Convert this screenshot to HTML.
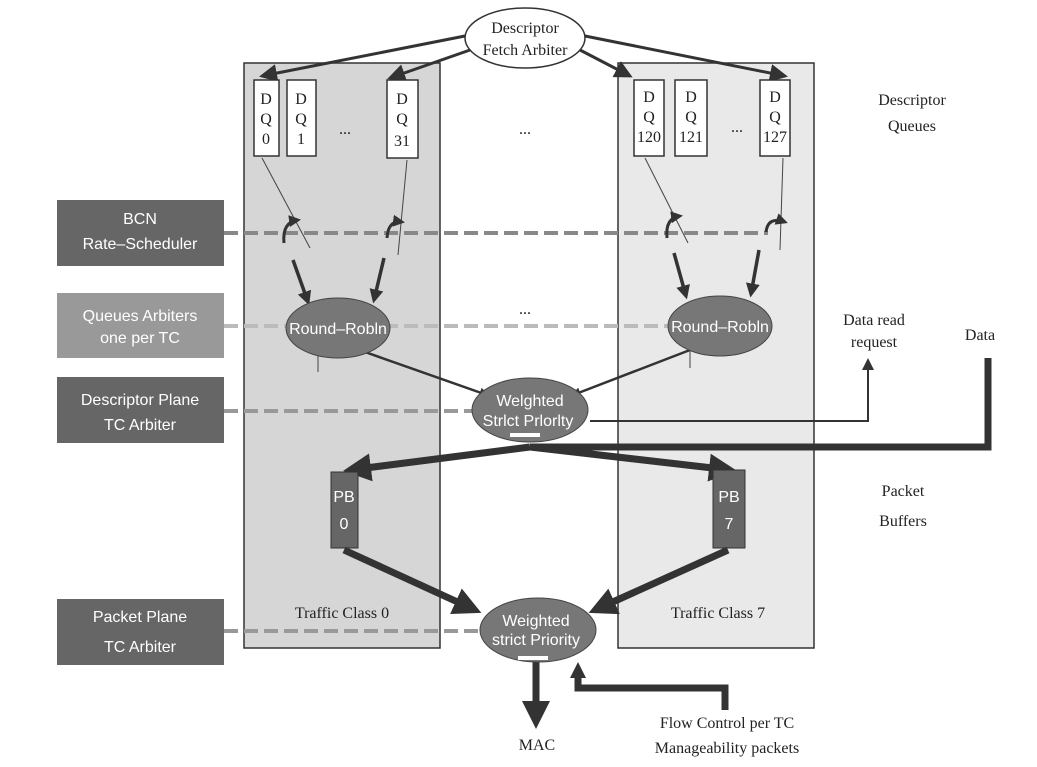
<!DOCTYPE html>
<html><head><meta charset="utf-8"><style>
body{margin:0;background:#fff}
svg{display:block}
.s{font-family:"Liberation Serif",serif;font-size:16px;fill:#222}
.w{font-family:"Liberation Sans",sans-serif;font-size:16px;fill:#fff}
</style></head><body>
<svg width="1037" height="767" viewBox="0 0 1037 767">
<defs>
<marker id="a" markerWidth="6" markerHeight="6" refX="5" refY="3" orient="auto" markerUnits="strokeWidth"><path d="M0,0L6,3L0,6z" fill="#333"/></marker>
<marker id="b" markerWidth="4" markerHeight="4" refX="3" refY="2" orient="auto" markerUnits="strokeWidth"><path d="M0,0L4,2L0,4z" fill="#333"/></marker>
</defs>
<rect x="244" y="63" width="196" height="585" fill="#d6d6d6" stroke="#333" stroke-width="1.5"/>
<rect x="618" y="63" width="196" height="585" fill="#e9e9e9" stroke="#333" stroke-width="1.5"/>
<g stroke="#333" stroke-width="3" fill="none">
<line x1="470" y1="35" x2="262" y2="76" marker-end="url(#a)"/>
<line x1="470" y1="50" x2="390" y2="78" marker-end="url(#a)"/>
<line x1="580" y1="50" x2="630" y2="76" marker-end="url(#a)"/>
<line x1="580" y1="35" x2="785" y2="76" marker-end="url(#a)"/>
</g>
<ellipse cx="525" cy="38" rx="60" ry="30" fill="#fff" stroke="#333" stroke-width="1.5"/>
<text class="s" x="525" y="33" text-anchor="middle">Descriptor</text>
<text class="s" x="525" y="55" text-anchor="middle">Fetch Arbiter</text>
<g fill="#fff" stroke="#333" stroke-width="1.5">
<rect x="254" y="80" width="25" height="76"/><rect x="287" y="80" width="29" height="76"/><rect x="387" y="80" width="31" height="78"/>
<rect x="634" y="80" width="30" height="76"/><rect x="675" y="80" width="32" height="76"/><rect x="760" y="80" width="30" height="76"/>
</g>
<g class="s" text-anchor="middle">
<text x="266" y="104">D</text><text x="266" y="124">Q</text><text x="266" y="144">0</text>
<text x="301" y="104">D</text><text x="301" y="124">Q</text><text x="301" y="144">1</text>
<text x="402" y="104">D</text><text x="402" y="124">Q</text><text x="402" y="146">31</text>
<text x="649" y="102">D</text><text x="649" y="122">Q</text><text x="649" y="142">120</text>
<text x="691" y="102">D</text><text x="691" y="122">Q</text><text x="691" y="142">121</text>
<text x="775" y="102">D</text><text x="775" y="122">Q</text><text x="775" y="142">127</text>
<text x="345" y="134">...</text><text x="525" y="134">...</text><text x="737" y="132">...</text><text x="525" y="314">...</text>
</g>
<g stroke="#444" stroke-width="1" fill="none">
<line x1="262" y1="158" x2="310" y2="248"/><line x1="407" y1="160" x2="398" y2="255"/>
<line x1="645" y1="158" x2="688" y2="243"/><line x1="783" y1="158" x2="780" y2="250"/>
<line x1="318" y1="350" x2="318" y2="372"/><line x1="690" y1="348" x2="690" y2="368"/>
</g>
<g stroke-width="4" stroke-dasharray="14,6" fill="none">
<line x1="224" y1="233" x2="768" y2="233" stroke="#888"/>
<line x1="224" y1="326" x2="670" y2="326" stroke="#bbb"/>
<line x1="224" y1="411" x2="475" y2="411" stroke="#999"/>
<line x1="224" y1="631" x2="480" y2="631" stroke="#999"/>
</g>
<g stroke="#333" stroke-width="3" fill="none">
<path d="M284,243 Q282,222 298,220" marker-end="url(#b)"/><path d="M387,238 Q388,220 402,222" marker-end="url(#b)"/>
<path d="M667,238 Q665,218 680,216" marker-end="url(#b)"/><path d="M766,232 Q768,216 785,222" marker-end="url(#b)"/>
</g>
<g stroke="#333" stroke-width="3.5" fill="none">
<line x1="293" y1="260" x2="308" y2="302" marker-end="url(#b)"/>
<line x1="384" y1="258" x2="374" y2="300" marker-end="url(#b)"/>
<line x1="674" y1="253" x2="686" y2="296" marker-end="url(#b)"/>
<line x1="759" y1="250" x2="751" y2="294" marker-end="url(#b)"/>
</g>
<g stroke="#333" stroke-width="2.5" fill="none">
<line x1="365" y1="352" x2="487" y2="395" marker-end="url(#b)"/>
<line x1="690" y1="350" x2="573" y2="395" marker-end="url(#b)"/>
</g>
<ellipse cx="338" cy="328" rx="52" ry="30" fill="#777" stroke="#444"/>
<text class="w" x="338" y="334" text-anchor="middle">Round–Robln</text>
<ellipse cx="720" cy="326" rx="52" ry="30" fill="#777" stroke="#444"/>
<text class="w" x="720" y="332" text-anchor="middle">Round–Robln</text>
<path d="M590,421 L868,421 L868,360" stroke="#333" stroke-width="2" fill="none" marker-end="url(#a)"/>
<path d="M988,358 L988,447 L530,447" stroke="#333" stroke-width="7" fill="none"/>
<path d="M530,447 L350,470" stroke="#333" stroke-width="7" fill="none" marker-end="url(#b)"/>
<path d="M530,447 L730,470" stroke="#333" stroke-width="7" fill="none" marker-end="url(#b)"/>
<ellipse cx="530" cy="410" rx="58" ry="32" fill="#777" stroke="#444"/>
<text class="w" x="530" y="406" text-anchor="middle">Welghted</text>
<text class="w" x="528" y="426" text-anchor="middle">Strlct Prlorlty</text>
<rect x="510" y="433" width="30" height="4" fill="#fff"/>
<rect x="331" y="472" width="27" height="76" fill="#666" stroke="#333"/>
<rect x="713" y="470" width="32" height="78" fill="#666" stroke="#333"/>
<text class="w" x="344" y="502" text-anchor="middle">PB</text><text class="w" x="344" y="529" text-anchor="middle">0</text>
<text class="w" x="729" y="502" text-anchor="middle">PB</text><text class="w" x="729" y="529" text-anchor="middle">7</text>
<g stroke="#333" stroke-width="7" fill="none">
<line x1="344" y1="550" x2="475" y2="610" marker-end="url(#b)"/>
<line x1="728" y1="550" x2="595" y2="610" marker-end="url(#b)"/>
<line x1="536" y1="662" x2="536" y2="722" marker-end="url(#b)"/>
<path d="M725,710 L725,688 L578,688 L578,675"/>
</g>
<path d="M570,678 L578,662 L586,678z" fill="#333"/>
<ellipse cx="538" cy="630" rx="58" ry="32" fill="#777" stroke="#444"/>
<text class="w" x="536" y="626" text-anchor="middle">Weighted</text>
<text class="w" x="536" y="645" text-anchor="middle">strict Priority</text>
<rect x="518" y="656" width="30" height="4" fill="#fff"/>
<text class="s" x="342" y="618" text-anchor="middle">Traffic Class 0</text>
<text class="s" x="718" y="618" text-anchor="middle">Traffic Class 7</text>
<text class="s" x="537" y="750" text-anchor="middle">MAC</text>
<text class="s" x="727" y="728" text-anchor="middle">Flow Control per TC</text>
<text class="s" x="727" y="753" text-anchor="middle">Manageability packets</text>
<text class="s" x="912" y="105" text-anchor="middle">Descriptor</text>
<text class="s" x="912" y="131" text-anchor="middle">Queues</text>
<text class="s" x="874" y="325" text-anchor="middle">Data read</text>
<text class="s" x="874" y="347" text-anchor="middle">request</text>
<text class="s" x="980" y="340" text-anchor="middle">Data</text>
<text class="s" x="903" y="496" text-anchor="middle">Packet</text>
<text class="s" x="903" y="526" text-anchor="middle">Buffers</text>
<rect x="57" y="200" width="167" height="66" fill="#666"/>
<text class="w" x="140" y="224" text-anchor="middle">BCN</text><text class="w" x="140" y="249" text-anchor="middle">Rate–Scheduler</text>
<rect x="57" y="293" width="167" height="65" fill="#999"/>
<text class="w" x="140" y="321" text-anchor="middle">Queues Arbiters</text><text class="w" x="140" y="343" text-anchor="middle">one per TC</text>
<rect x="57" y="377" width="167" height="66" fill="#666"/>
<text class="w" x="140" y="405" text-anchor="middle">Descriptor Plane</text><text class="w" x="140" y="430" text-anchor="middle">TC Arbiter</text>
<rect x="57" y="599" width="167" height="66" fill="#666"/>
<text class="w" x="140" y="622" text-anchor="middle">Packet Plane</text><text class="w" x="140" y="652" text-anchor="middle">TC Arbiter</text>
</svg>
</body></html>
